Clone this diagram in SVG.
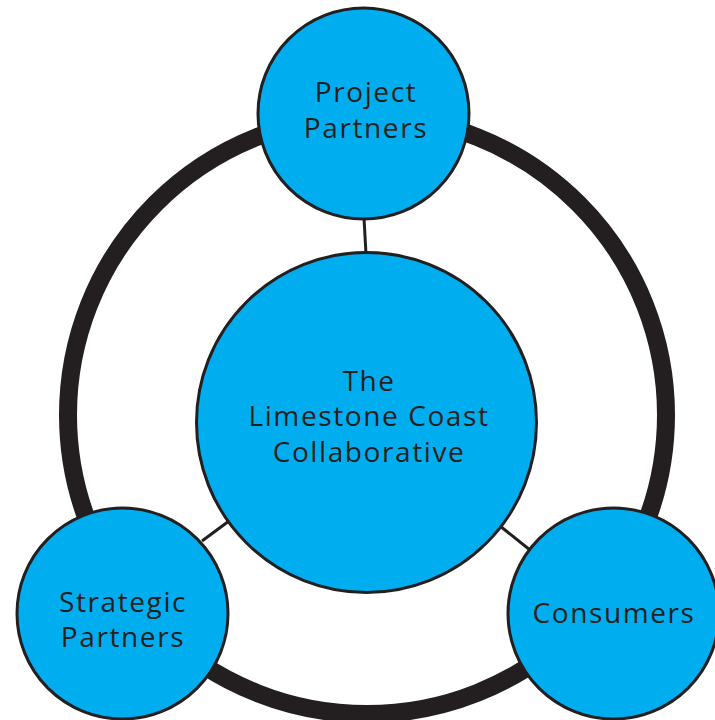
<svg xmlns="http://www.w3.org/2000/svg" width="715" height="720" viewBox="0 0 715 720">
  <style>
    .node { fill: #00aeef; stroke: #231f20; stroke-width: 3; }
    .link { stroke: #231f20; stroke-width: 3; fill: none; }
    .ring { stroke: #231f20; stroke-width: 18; fill: none; }
    .label { font-family: "Open Sans", "Liberation Sans", sans-serif; font-size: 28px; letter-spacing: 1.6px; fill: #231f20; text-anchor: middle; }
  </style>
  <rect width="715" height="720" fill="#ffffff"/>

  <!-- outer ring linking the three partner groups -->
  <circle class="ring" cx="367" cy="415" r="299"/>

  <!-- spokes from the hub to each group -->
  <g id="connectors">
    <line class="link" x1="364" y1="218" x2="366" y2="254"/>
    <line class="link" x1="202" y1="541" x2="229" y2="521"/>
    <line class="link" x1="500" y1="526" x2="530" y2="550"/>
  </g>

  <g id="hub">
    <circle class="node" cx="366.5" cy="422.5" r="170"/>
    <text class="label" x="369" y="391">The</text>
    <text class="label" x="369" y="426">Limestone Coast</text>
    <text class="label" x="369" y="462">Collaborative</text>
  </g>

  <g id="project-partners">
    <circle class="node" cx="363.5" cy="113.5" r="105.5"/>
    <text class="label" x="366" y="102">Project</text>
    <text class="label" x="366" y="138">Partners</text>
  </g>

  <g id="strategic-partners">
    <circle class="node" cx="122.5" cy="613.5" r="105.5"/>
    <text class="label" x="123" y="612">Strategic</text>
    <text class="label" x="123" y="647">Partners</text>
  </g>

  <g id="consumers">
    <circle class="node" cx="613.5" cy="613.5" r="105.5"/>
    <text class="label" x="614" y="623">Consumers</text>
  </g>
</svg>
